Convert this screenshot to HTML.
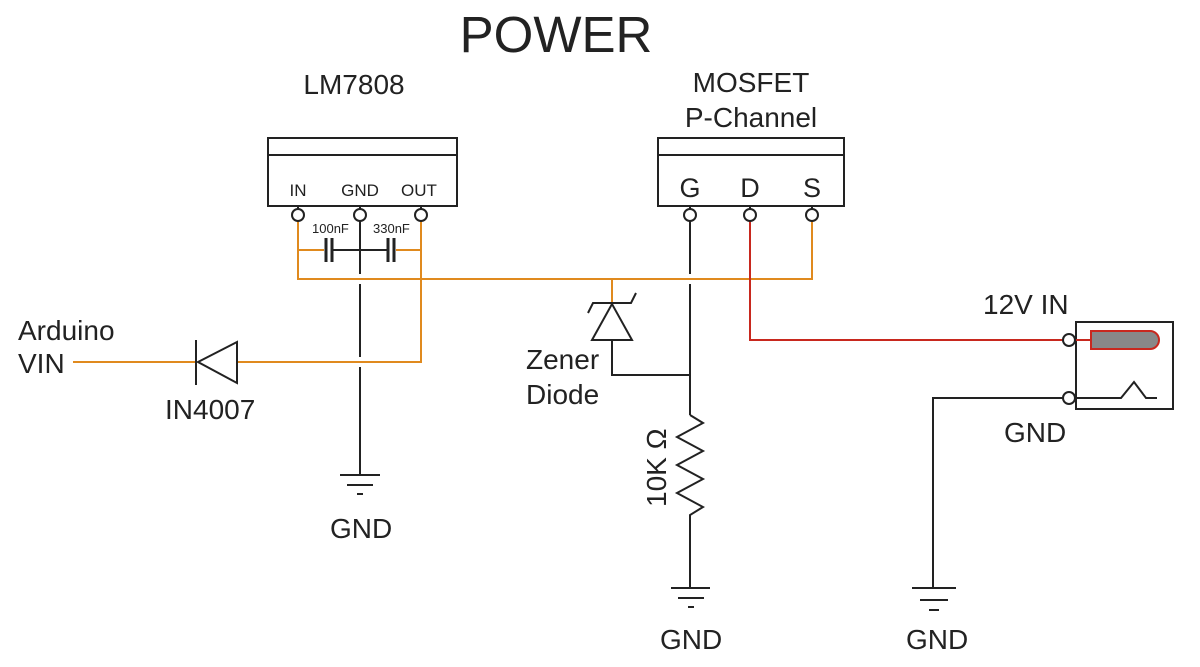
<!DOCTYPE html>
<html><head><meta charset="utf-8"><style>
html,body{margin:0;padding:0;background:#fff;}
svg{display:block}
text{font-family:"Liberation Sans",Arial,sans-serif;fill:#222}
</style></head><body>
<svg width="1200" height="667" viewBox="0 0 1200 667" xmlns="http://www.w3.org/2000/svg">
<text x="556" y="52" font-size="51" text-anchor="middle">POWER</text>
<text x="354" y="94" font-size="28" text-anchor="middle">LM7808</text>
<text x="751" y="92" font-size="28" text-anchor="middle">MOSFET</text>
<text x="751" y="127" font-size="28" text-anchor="middle">P-Channel</text>

<g fill="none" stroke="#222" stroke-width="2">
<rect x="268" y="138" width="189" height="68"/>
<line x1="268" y1="155" x2="457" y2="155"/>
<rect x="658" y="138" width="186" height="68"/>
<line x1="658" y1="155" x2="844" y2="155"/>
<line x1="298" y1="206" x2="298" y2="210"/><line x1="360" y1="206" x2="360" y2="210"/><line x1="421" y1="206" x2="421" y2="210"/>
<line x1="690" y1="206" x2="690" y2="210"/><line x1="750" y1="206" x2="750" y2="210"/><line x1="812" y1="206" x2="812" y2="210"/>
</g>
<g font-size="17" text-anchor="middle">
<text x="298" y="196">IN</text><text x="360" y="196">GND</text><text x="419" y="196">OUT</text>
</g>
<g font-size="27" text-anchor="middle">
<text x="690" y="197">G</text><text x="750" y="197">D</text><text x="812" y="197">S</text>
</g>

<g fill="none" stroke="#e08a1e" stroke-width="2">
<polyline points="298,221 298,279 812,279 812,221"/>
<line x1="298" y1="250" x2="324" y2="250"/>
<line x1="396" y1="250" x2="421" y2="250"/>
<polyline points="421,221 421,362 237,362"/>
<line x1="197" y1="362" x2="73" y2="362"/>
<line x1="612" y1="279" x2="612" y2="303"/>
</g>
<polyline points="750,221 750,340 1064,340" fill="none" stroke="#c8281e" stroke-width="2"/>

<g fill="none" stroke="#222" stroke-width="2">
<line x1="360" y1="221" x2="360" y2="274"/>
<line x1="360" y1="284" x2="360" y2="357"/>
<line x1="360" y1="367" x2="360" y2="475"/>
<line x1="333" y1="250" x2="387" y2="250"/>
<line x1="690" y1="221" x2="690" y2="274"/>
<line x1="690" y1="284" x2="690" y2="415"/>
<polyline points="690,415 703,423 677,437 703,451 677,465 703,479 677,493 703,507 690,515 690,588"/>
<polyline points="612,340 612,375 690,375"/>
<polyline points="1064,398 933,398 933,588"/>
<line x1="326" y1="238" x2="326" y2="262" stroke-width="3"/>
<line x1="332" y1="238" x2="332" y2="262" stroke-width="3"/>
<line x1="388" y1="238" x2="388" y2="262" stroke-width="3"/>
<line x1="394" y1="238" x2="394" y2="262" stroke-width="3"/>
<line x1="196" y1="340" x2="196" y2="385"/>
<polygon points="198,362 237,342 237,383"/>
<polygon points="612,304 592,340 632,340"/>
<polyline points="588,313 593,303 631,303 636,293"/>
<line x1="340" y1="475" x2="380" y2="475"/><line x1="347" y1="485" x2="373" y2="485"/><line x1="357" y1="494" x2="363" y2="494"/>
<line x1="671" y1="588" x2="710" y2="588"/><line x1="678" y1="598" x2="704" y2="598"/><line x1="688" y1="607" x2="694" y2="607"/>
<line x1="912" y1="588" x2="956" y2="588"/><line x1="920" y1="600" x2="948" y2="600"/><line x1="929" y1="610" x2="939" y2="610"/>
<rect x="1076" y="322" width="97" height="87"/>
<polyline points="1076,398 1121,398 1134,382 1146,398 1157,398"/>
</g>
<path d="M1091,331 H1150 A9,9 0 0 1 1150,349 H1091 Z" fill="#888" stroke="#c8281e" stroke-width="2"/>
<line x1="1076" y1="340" x2="1091" y2="340" stroke="#c8281e" stroke-width="2"/>
<g fill="#fff" stroke="#222" stroke-width="2">
<circle cx="298" cy="215" r="6"/><circle cx="360" cy="215" r="6"/><circle cx="421" cy="215" r="6"/>
<circle cx="690" cy="215" r="6"/><circle cx="750" cy="215" r="6"/><circle cx="812" cy="215" r="6"/>
<circle cx="1069" cy="340" r="6"/><circle cx="1069" cy="398" r="6"/>
</g>

<g font-size="13">
<text x="312" y="233">100nF</text><text x="373" y="233">330nF</text>
</g>
<g font-size="28">
<text x="18" y="340">Arduino</text>
<text x="18" y="373">VIN</text>
<text x="165" y="419">IN4007</text>
<text x="330" y="538">GND</text>
<text x="526" y="369">Zener</text>
<text x="526" y="404">Diode</text>
<text x="660" y="649">GND</text>
<text x="906" y="649">GND</text>
<text x="983" y="314">12V IN</text>
<text x="1004" y="442">GND</text>
<text transform="translate(666,507) rotate(-90)">10K Ω</text>
</g>
</svg>
</body></html>
